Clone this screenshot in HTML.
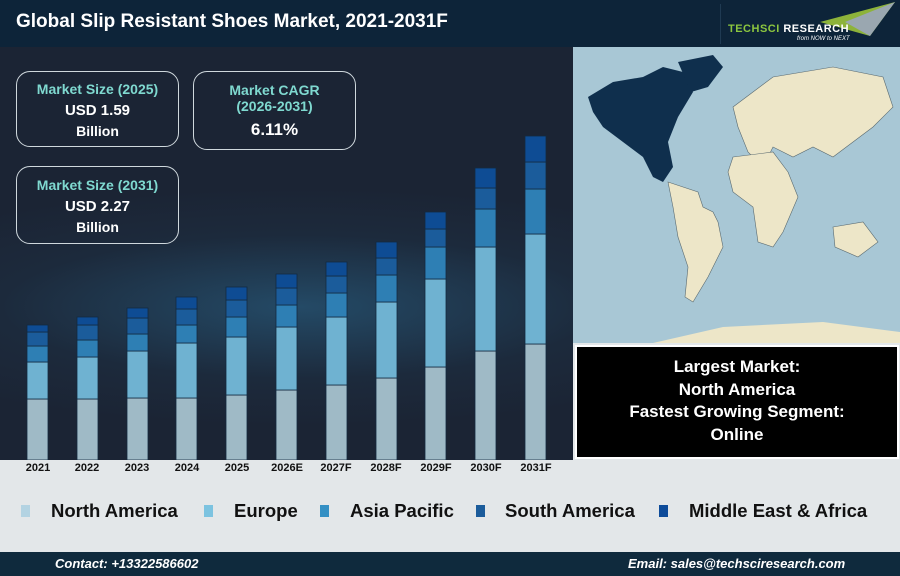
<!DOCTYPE html>
<html><head><meta charset="utf-8"><style>
*{margin:0;padding:0;box-sizing:border-box}
body{width:900px;height:576px;overflow:hidden;font-family:"Liberation Sans",sans-serif;background:#e3e7e9;position:relative}
.abs{position:absolute}
.card{position:absolute;border:1.5px solid #cfd8dd;border-radius:14px;text-align:center;font-weight:bold}
.card .t{color:#7fd9d0;font-size:14px}
.card .v{color:#fff;font-size:15px}
.lg{position:absolute;top:505px;width:9px;height:12px}
.lt{position:absolute;top:500px;font-size:18.5px;font-weight:bold;color:#111}
.xl{position:absolute;top:462px;width:50px;text-align:center;font-size:11px;font-weight:bold;color:#111}
</style></head><body>
<div class="abs" style="left:0;top:0;width:900px;height:47px;background:#0d2439"></div>
<div class="abs" style="left:16px;top:11px;color:#fff;font-size:19px;font-weight:bold">Global Slip Resistant Shoes Market, 2021-2031F</div>
<div class="abs" style="left:720px;top:4px;width:1px;height:40px;background:#1f3a52"></div>
<svg class="abs" style="left:800px;top:2px" width="100" height="36"><polygon points="20,20 95,0 70,34" fill="#8db33a"/><polygon points="45,20 95,0 70,34" fill="#9aa7b0"/></svg>
<div class="abs" style="left:728px;top:23px;font-size:11px;font-weight:bold;color:#8cc63f;letter-spacing:0.5px">TECHSCI <span style="color:#fff">RESEARCH</span></div>
<div class="abs" style="left:797px;top:36px;font-size:6px;font-style:italic;color:#fff">from NOW to NEXT</div>

<div class="abs" style="left:0;top:47px;width:573px;height:413px;background:radial-gradient(ellipse 500px 120px at 300px 260px,#244a66 0%,#1c2a3c 60%,#1b2434 100%)"></div>

<div class="card" style="left:16px;top:71px;width:163px;height:76px"><div class="t" style="margin-top:9px">Market Size (2025)</div><div class="v" style="margin-top:5px">USD 1.59</div><div class="v" style="font-size:14px;margin-top:4px">Billion</div></div>
<div class="card" style="left:193px;top:71px;width:163px;height:79px"><div class="t" style="margin-top:10px">Market CAGR</div><div class="t">(2026-2031)</div><div class="v" style="font-size:17px;margin-top:6px">6.11%</div></div>
<div class="card" style="left:16px;top:166px;width:163px;height:78px"><div class="t" style="margin-top:10px">Market Size (2031)</div><div class="v" style="margin-top:5px">USD 2.27</div><div class="v" style="font-size:14px;margin-top:4px">Billion</div></div>

<svg class="abs" style="left:0;top:0" width="573" height="460" stroke="#132a40" stroke-width="0.8">
<rect x="27" y="399" width="21" height="61" fill="#9fbac6"/><rect x="27" y="362" width="21" height="37" fill="#6fb2d1"/><rect x="27" y="346" width="21" height="16" fill="#2e7fb4"/><rect x="27" y="332" width="21" height="14" fill="#1b5c9b"/><rect x="27" y="325" width="21" height="7" fill="#0e4c94"/>
<rect x="77" y="399" width="21" height="61" fill="#9fbac6"/><rect x="77" y="357" width="21" height="42" fill="#6fb2d1"/><rect x="77" y="340" width="21" height="17" fill="#2e7fb4"/><rect x="77" y="325" width="21" height="15" fill="#1b5c9b"/><rect x="77" y="317" width="21" height="8" fill="#0e4c94"/>
<rect x="127" y="398" width="21" height="62" fill="#9fbac6"/><rect x="127" y="351" width="21" height="47" fill="#6fb2d1"/><rect x="127" y="334" width="21" height="17" fill="#2e7fb4"/><rect x="127" y="318" width="21" height="16" fill="#1b5c9b"/><rect x="127" y="308" width="21" height="10" fill="#0e4c94"/>
<rect x="176" y="398" width="21" height="62" fill="#9fbac6"/><rect x="176" y="343" width="21" height="55" fill="#6fb2d1"/><rect x="176" y="325" width="21" height="18" fill="#2e7fb4"/><rect x="176" y="309" width="21" height="16" fill="#1b5c9b"/><rect x="176" y="297" width="21" height="12" fill="#0e4c94"/>
<rect x="226" y="395" width="21" height="65" fill="#9fbac6"/><rect x="226" y="337" width="21" height="58" fill="#6fb2d1"/><rect x="226" y="317" width="21" height="20" fill="#2e7fb4"/><rect x="226" y="300" width="21" height="17" fill="#1b5c9b"/><rect x="226" y="287" width="21" height="13" fill="#0e4c94"/>
<rect x="276" y="390" width="21" height="70" fill="#9fbac6"/><rect x="276" y="327" width="21" height="63" fill="#6fb2d1"/><rect x="276" y="305" width="21" height="22" fill="#2e7fb4"/><rect x="276" y="288" width="21" height="17" fill="#1b5c9b"/><rect x="276" y="274" width="21" height="14" fill="#0e4c94"/>
<rect x="326" y="385" width="21" height="75" fill="#9fbac6"/><rect x="326" y="317" width="21" height="68" fill="#6fb2d1"/><rect x="326" y="293" width="21" height="24" fill="#2e7fb4"/><rect x="326" y="276" width="21" height="17" fill="#1b5c9b"/><rect x="326" y="262" width="21" height="14" fill="#0e4c94"/>
<rect x="376" y="378" width="21" height="82" fill="#9fbac6"/><rect x="376" y="302" width="21" height="76" fill="#6fb2d1"/><rect x="376" y="275" width="21" height="27" fill="#2e7fb4"/><rect x="376" y="258" width="21" height="17" fill="#1b5c9b"/><rect x="376" y="242" width="21" height="16" fill="#0e4c94"/>
<rect x="425" y="367" width="21" height="93" fill="#9fbac6"/><rect x="425" y="279" width="21" height="88" fill="#6fb2d1"/><rect x="425" y="247" width="21" height="32" fill="#2e7fb4"/><rect x="425" y="229" width="21" height="18" fill="#1b5c9b"/><rect x="425" y="212" width="21" height="17" fill="#0e4c94"/>
<rect x="475" y="351" width="21" height="109" fill="#9fbac6"/><rect x="475" y="247" width="21" height="104" fill="#6fb2d1"/><rect x="475" y="209" width="21" height="38" fill="#2e7fb4"/><rect x="475" y="188" width="21" height="21" fill="#1b5c9b"/><rect x="475" y="168" width="21" height="20" fill="#0e4c94"/>
<rect x="525" y="344" width="21" height="116" fill="#9fbac6"/><rect x="525" y="234" width="21" height="110" fill="#6fb2d1"/><rect x="525" y="189" width="21" height="45" fill="#2e7fb4"/><rect x="525" y="162" width="21" height="27" fill="#1b5c9b"/><rect x="525" y="136" width="21" height="26" fill="#0e4c94"/>
</svg>
<div class="xl" style="left:13px">2021</div><div class="xl" style="left:62px">2022</div><div class="xl" style="left:112px">2023</div><div class="xl" style="left:162px">2024</div><div class="xl" style="left:212px">2025</div><div class="xl" style="left:262px">2026E</div><div class="xl" style="left:311px">2027F</div><div class="xl" style="left:361px">2028F</div><div class="xl" style="left:411px">2029F</div><div class="xl" style="left:461px">2030F</div><div class="xl" style="left:511px">2031F</div>

<svg class="abs" style="left:573px;top:47px" width="327" height="296">
<rect width="327" height="296" fill="#a8c7d5"/>
<path d="M15,50 L40,35 L70,30 L90,20 L110,25 L120,45 L105,70 L95,95 L100,120 L90,135 L80,130 L70,110 L50,95 L30,80 L20,65 Z" fill="#0f2f4d"/>
<path d="M105,15 L140,8 L150,20 L135,40 L118,45 Z" fill="#0f2f4d"/>
<path d="M95,135 L125,145 L130,160 L140,165 L145,175 L150,200 L135,230 L120,255 L112,250 L115,220 L105,190 L100,160 Z" fill="#ede6c8" stroke="#5a6a70" stroke-width="0.6"/>
<path d="M160,60 L200,30 L260,20 L310,30 L320,60 L300,80 L280,95 L260,110 L240,100 L220,110 L200,100 L190,120 L175,105 L165,80 Z" fill="#ede6c8" stroke="#5a6a70" stroke-width="0.6"/>
<path d="M160,110 L200,105 L215,125 L225,150 L210,185 L200,200 L185,195 L180,160 L160,145 L155,125 Z" fill="#ede6c8" stroke="#5a6a70" stroke-width="0.6"/>
<path d="M260,180 L290,175 L305,195 L285,210 L262,200 Z" fill="#ede6c8" stroke="#5a6a70" stroke-width="0.6"/>
<path d="M80,296 L150,280 L250,275 L327,285 L327,296 Z" fill="#ede6c8"/>
</svg>
<div class="abs" style="left:575px;top:345px;width:324px;height:114px;background:#000;border:2px solid #fff;color:#fff;font-size:17px;font-weight:bold;text-align:center;padding-top:9px;line-height:22.7px">Largest Market:<br>North America<br>Fastest Growing Segment:<br>Online</div>

<div class="lg" style="left:21px;background:#b3d3e2"></div><div class="lt" style="left:51px">North America</div>
<div class="lg" style="left:204px;background:#7cc3e0"></div><div class="lt" style="left:234px">Europe</div>
<div class="lg" style="left:320px;background:#3490c4"></div><div class="lt" style="left:350px">Asia Pacific</div>
<div class="lg" style="left:476px;background:#1b5c9b"></div><div class="lt" style="left:505px">South America</div>
<div class="lg" style="left:659px;background:#0e4c9a"></div><div class="lt" style="left:689px">Middle East &amp; Africa</div>

<div class="abs" style="left:0;top:552px;width:900px;height:24px;background:#0f2a3d"></div>
<div class="abs" style="left:55px;top:556px;color:#fff;font-size:13px;font-weight:bold;font-style:italic">Contact: +13322586602</div>
<div class="abs" style="left:628px;top:556px;color:#fff;font-size:13px;font-weight:bold;font-style:italic">Email: sales@techsciresearch.com</div>
</body></html>
